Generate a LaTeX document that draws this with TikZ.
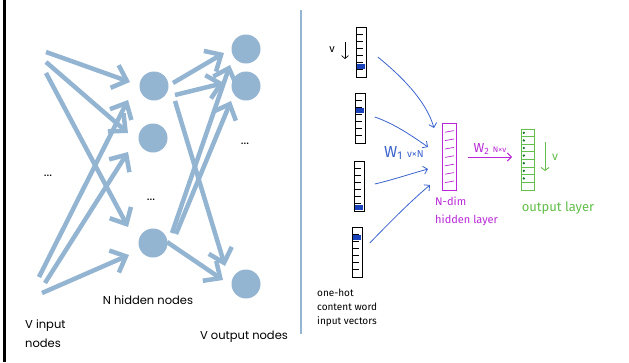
\documentclass[tikz,border=0pt]{standalone}
\usepackage{fontspec}
\setmainfont{Poppins}
\newfontfamily\hand{Fira Sans}
\usetikzlibrary{arrows.meta,calc}
\definecolor{nb}{RGB}{148,181,210}
\definecolor{pen}{RGB}{60,100,205}
\definecolor{pur}{RGB}{185,40,215}
\definecolor{grn}{RGB}{100,190,75}
\definecolor{dgrn}{RGB}{25,110,45}
\definecolor{hot}{RGB}{25,65,185}
\newcommand\onehot[3]{%
  \node[vecbox] (#1) at (#2) {};
  \foreach \k in {1,...,6}
    \draw[line width=0.7pt] ($(#1.north west)+(0,7.1*\k)$) -- ++(6.5,0);
  \fill[hot] ($(#1.north west)+(1,7.1*#3+1)$) rectangle ++(8,5.2);
}
\begin{document}
\begin{tikzpicture}[x=1pt,y=-1pt,
  neuron/.style={circle,fill=nb,minimum size=29pt,inner sep=0pt},
  bigarr/.style={draw=nb,line width=4.5pt,-{Straight Barb[length=13pt,width=24pt]}},
  penarr/.style={draw=pen,line width=0.8pt,-{Straight Barb[length=4pt,width=8pt]}},
  vecbox/.style={draw,line width=0.8pt,minimum width=10pt,minimum height=50pt,inner sep=0pt,anchor=north west},
  lbl/.style={font=\fontsize{11.5}{19}\selectfont,inner sep=0pt},
  dots/.style={font=\fontsize{13}{13}\selectfont,inner sep=0pt},
  hw/.style={font=\hand\fontsize{10}{14}\selectfont,inner sep=0pt,align=left}
]
\useasboundingbox (0,0) rectangle (629,362);
\fill[white] (0,0) rectangle (629,362);
% frame lines
\draw[line width=2.5pt] (4.5,0) -- (4.5,362);
\draw[nb,line width=2pt] (301,10) -- (301,334);

% ---------- left network ----------
\node[neuron] (h1) at (154,86) {};
\node[neuron] (h2) at (153,138) {};
\node[neuron] (h3) at (153,243) {};
\node[neuron] (o1) at (246,49) {};
\node[neuron] (o2) at (246,86) {};
\node[neuron] (o3) at (246,284) {};

\coordinate (i1) at (46,52);
\coordinate (i2) at (46,62);
\coordinate (i3) at (46,73);
\coordinate (i4) at (39,277);
\coordinate (i5) at (45,283);
\coordinate (i6) at (42,293);

\draw[bigarr] (i1) -- ([shift={(-24,-4)}]h1.center);
\draw[bigarr] (i2) -- ([shift={(-25,-5)}]h2.center);
\draw[bigarr] (i3) -- ([shift={(-25,-16)}]h3.center);
\draw[bigarr] (i4) -- ([shift={(-26,14)}]h1.center);
\draw[bigarr] (i5) -- ([shift={(-25,14)}]h2.center);
\draw[bigarr] (i6) -- ([shift={(-24,12)}]h3.center);

\draw[bigarr] ([shift={(19,-3)}]h1.center) -- ([shift={(-22,4)}]o1.center);
\draw[bigarr] ([shift={(21,9)}]h1.center) -- ([shift={(-22,-3)}]o2.center);
\draw[bigarr] ([shift={(21,15)}]h1.center) -- ([shift={(-21,-18)}]o3.center);
\draw[bigarr] ([shift={(19,-10)}]h3.center) -- ([shift={(-16,16)}]o1.center);
\draw[bigarr] ([shift={(23,-9)}]h3.center) -- ([shift={(-15,15)}]o2.center);
\draw[bigarr] ([shift={(14,-1)}]h3.center) -- ([shift={(-23,-4)}]o3.center);

\node[dots] (d1) at (48,176) {...};
\node[dots] (d2) at (151,200) {...};
\node[dots] (d3) at (245,144) {...};
\node[lbl] (nh) at (148,300) {N hidden nodes};
\node[lbl,align=left,anchor=west] (vi) at (25,334) {V input\\nodes};
\node[lbl] (vo) at (244,337) {V output nodes};

% ---------- right sketch ----------
\onehot{v1}{356,27}{5}
\onehot{v2}{355,93}{2}
\onehot{v3}{354,161}{6}
\onehot{v4}{352,227}{1}

\node[hw,font=\hand\fontsize{11}{11}\selectfont] (vv) at (332,50) {v};
\coordinate (va) at (345,42);
\coordinate (vb) at (345,59);
\draw[line width=0.7pt,-{Straight Barb[length=3pt,width=7pt]}] (va) -- (vb);

% hidden layer
\node[draw=pur,line width=1pt,minimum width=14pt,minimum height=67pt,inner sep=0pt,anchor=north west] (hl) at (442,123) {};
\foreach \k in {1,...,7}
  \draw[pur,line width=0.7pt] ($(hl.north west)+(3,8.4*\k+0.8)$) -- ++(9,-1.6);

% output layer
\node[draw=grn,line width=1pt,minimum width=13pt,minimum height=61pt,inner sep=0pt,anchor=north west] (ol) at (521,129) {};
\foreach \k in {1,...,7}
  \draw[grn,line width=0.7pt] ($(ol.north west)+(0,7.6*\k)$) -- ++(13,0);
\foreach \k in {0,...,6}
  \fill[dgrn] ($(ol.north west)+(2.8,7.6*\k+3.8)$) circle (1.3pt);

% pen arrows into hidden layer
\draw[penarr] ([shift={(11,30)}]v1.north east) .. controls (400,75) and (426,100) .. ([shift={(-8,5)}]hl.north west);
\draw[penarr] ([shift={(9,24)}]v2.north east) .. controls (395,124) and (412,136) .. ([shift={(-14,24)}]hl.north west);
\draw[penarr] ([shift={(10,23)}]v3.north east) .. controls (392,180) and (410,174) .. ([shift={(-14,46)}]hl.north west);
\draw[penarr] ([shift={(7,16)}]v4.north east) .. controls (390,222) and (412,200) .. ([shift={(-12,62)}]hl.north west);

\node[text=pen,font=\hand\fontsize{16}{16}\selectfont,inner sep=0pt] (w1) at (404,153) {W\textsubscript{1} {\fontsize{10}{10}\selectfont v×N}};

% W2 arrow
\draw[draw=pur,line width=0.9pt,-{Straight Barb[length=4pt,width=8pt]}] ([shift={(11,34)}]hl.north east) -- ([shift={(-9,28)}]ol.north west);
\node[text=pur,font=\hand\fontsize{13}{13}\selectfont,inner sep=0pt] (w2) at (490,149) {W\textsubscript{2} {\fontsize{8}{8}\selectfont N×v}};

% green v arrow
\coordinate (ga) at (545,142);
\coordinate (gb) at (545,171);
\draw[grn,line width=0.9pt,-{Straight Barb[length=3pt,width=8pt]}] (ga) -- (gb);
\node[hw,text=grn,font=\hand\fontsize{12}{12}\selectfont] (gv) at (555,157) {v};

% handwritten labels
\node[hw,text=pur,font=\hand\fontsize{11}{18}\selectfont,anchor=north west] (hlab) at (435,197) {N-dim\\hidden layer};
\node[hw,text=grn,font=\hand\fontsize{13}{13}\selectfont] (olab) at (558,208) {output layer};
\node[hw,anchor=north west] (ilab) at (317,289) {one-hot\\content word\\input vectors};
\end{tikzpicture}
\end{document}
